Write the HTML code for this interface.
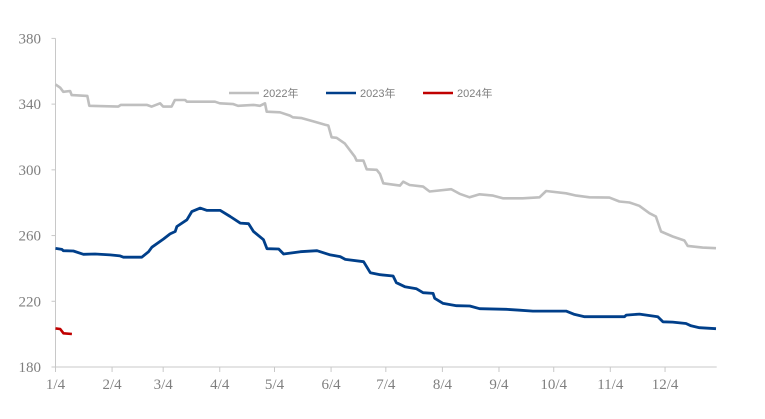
<!DOCTYPE html>
<html><head><meta charset="utf-8"><style>
html,body{margin:0;padding:0;background:#fff;width:765px;height:419px;overflow:hidden}
svg text{font-family:"Liberation Serif",serif;fill:#7f7f7f}
.lg{font-family:"Liberation Sans","Noto Sans CJK SC",sans-serif;font-size:11px;fill:#7f7f7f}
</style></head><body>
<svg id="chart" width="765" height="419" xmlns="http://www.w3.org/2000/svg"></svg>
<script>
const yTicks=[180,220,260,300,340,380];
const xTickLabels=["1/4","2/4","3/4","4/4","5/4","6/4","7/4","8/4","9/4","10/4","11/4","12/4"];
const xTickDays=[0,31,59,90,120,151,181,212,243,273,304,334];
const seriesNames=["2022年","2023年","2024年"];
const s2022=[[0,352],[2.6,350],[4.3,347.5],[8,348],[8.9,345.5],[17.4,345],[18.5,339],[34.4,338.5],[35.7,339.5],[50,339.5],[52.7,338.5],[57.3,340.5],[59,338.5],[63.6,338.5],[65.4,342.5],[71,342.5],[72,341.5],[87.4,341.5],[90,340.5],[97.4,340],[100,339],[108.4,339.5],[112,339],[114.8,340.5],[115.7,335.4],[123,335],[128.5,333],[130,332],[134.9,331.5],[141.3,329.5],[147.7,327.5],[149.5,327],[151.3,319.8],[154,319.5],[158.6,316],[164,308],[165,305.6],[168.7,305.6],[170.5,300.3],[176,300],[177.8,297.5],[179.6,291.8],[188.7,290.4],[190.5,292.8],[194,290.8],[201.4,289.8],[205,286.8],[216.9,288.2],[221.4,285.4],[226.9,283.3],[232.4,285.1],[239.7,284.3],[245.1,282.7],[256,282.7],[265.2,283.3],[268.8,287.1],[279.8,285.7],[285.3,284.3],[292.6,283.3],[303.5,283.1],[309,280.7],[314.5,280.1],[319.9,278.1],[325.4,273.6],[329,271.6],[331.8,262.5],[338.2,259.4],[344.6,257],[346.4,253.7],[354.6,252.7],[361.9,252.3]];
const s2023=[[0,252.2],[3.5,251.6],[4.3,250.8],[9.8,250.6],[15.3,248.6],[21.7,248.8],[29.9,248.2],[35.4,247.6],[37.2,246.8],[47.3,246.8],[51,250.2],[52.8,252.9],[59.2,257.9],[62.8,261],[65.6,262.5],[66.5,265.5],[72,269.6],[74.7,274.6],[79.3,276.7],[83,275.3],[90.3,275.3],[95.7,271.6],[101.2,267.6],[105.8,267.2],[108.5,262.5],[114,257.5],[115.9,252],[122.3,251.8],[125,248.8],[134.2,250.2],[143.3,250.8],[150.6,248.2],[156,247.2],[158.8,245.5],[168.8,244.1],[172.5,237.4],[177.9,236.2],[185,235.4],[186.8,231.3],[191.4,228.9],[197.8,227.6],[201.4,225.2],[206.9,224.8],[207.8,221.8],[212.4,218.7],[219.7,217.3],[227,217.1],[232.4,215.5],[247,215.1],[254.3,214.6],[261.6,214],[279.8,214],[284.4,212],[289.9,210.6],[311.8,210.6],[312.7,211.6],[320,212.2],[330,210.6],[332.8,207.5],[338.2,207.3],[345.5,206.5],[348.2,205.1],[352.8,203.9],[361.9,203.3]];
const s2024=[[0,203.5],[2.6,203.1],[4.4,200.5],[9,200.1]];
const NS="http://www.w3.org/2000/svg";
const svg=document.getElementById("chart");
const X0=55.5,PXD=1.825,XEND=716.7,Y0=367,PXV=1.643;
const xs=d=>X0+d*PXD, ys=v=>Y0-(v-180)*PXV;
function mk(t,a){const e=document.createElementNS(NS,t);for(const k in a)e.setAttribute(k,a[k]);svg.appendChild(e);return e;}
let ax=mk("line",{x1:X0,y1:ys(380),x2:X0,y2:Y0,stroke:"#c8c8c8","stroke-width":1});


let bx=mk("line",{x1:X0,y1:Y0,x2:XEND,y2:Y0,stroke:"#c8c8c8","stroke-width":1});


yTicks.forEach(v=>{
 mk("line",{x1:X0-4,y1:ys(v),x2:X0,y2:ys(v),stroke:"#c8c8c8"});
 const t=mk("text",{x:41,y:ys(v)+5,"text-anchor":"end","font-size":15});
 t.textContent=v;
 
 
});
xTickDays.forEach((d,i)=>{
 mk("line",{x1:xs(d),y1:Y0,x2:xs(d),y2:Y0+5,stroke:"#c8c8c8"});
 const t=mk("text",{x:xs(d),y:389,"text-anchor":"middle","font-size":15});
 t.textContent=xTickLabels[i];
 
 
});
const cols=["#bfbfbf","#003f8a","#c00000"],wid=[2.6,2.8,2.6];
[s2022,s2023,s2024].forEach((s,i)=>{
 const p=mk("polyline",{points:s.map(p=>xs(p[0]).toFixed(1)+","+ys(p[1]).toFixed(1)).join(" "),fill:"none",stroke:cols[i],"stroke-width":wid[i],"stroke-linejoin":"round"});
 
 
});
const lx=[229,326,423];
seriesNames.forEach((n,i)=>{
 const l=mk("line",{x1:lx[i],y1:93,x2:lx[i]+30,y2:93,stroke:cols[i],"stroke-width":2.6});
 
 
 const t=mk("text",{x:lx[i]+34,y:97,class:"lg"});
 t.textContent=n;
 
 
});
</script>
</body></html>
